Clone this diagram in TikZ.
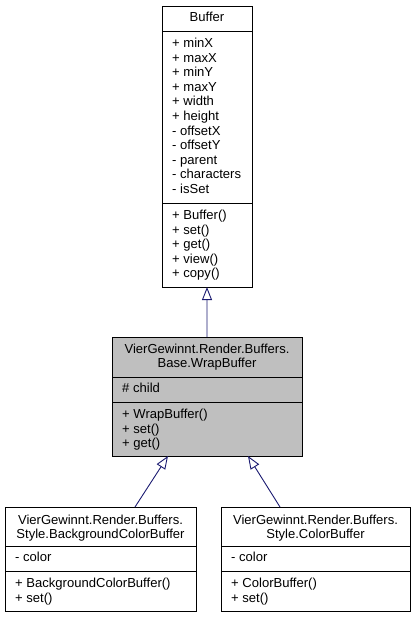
\documentclass[tikz,border=0pt]{standalone}
\usepackage{fontspec}
\setmainfont{Liberation Sans}
\usetikzlibrary{arrows.meta}
\definecolor{edgeblue}{HTML}{191970}
\definecolor{boxgray}{HTML}{BFBFBF}
\tikzset{
  cls/.style={draw=black, line width=0.9bp, fill=white, anchor=north west, inner sep=0pt, outer sep=0pt},
  sep/.style={draw=black, line width=0.9bp},
  ttl/.style={anchor=base, inner sep=0pt, font=\fontsize{13.1}{14.6}\selectfont},
  mem/.style={anchor=base west, inner sep=0pt, font=\fontsize{13.1}{14.6}\selectfont},
  inh/.style={draw=edgeblue, line width=0.9bp, -{Triangle[fill=white, length=13bp, width=10bp, line width=0.9bp]}}
}
\begin{document}
\begin{tikzpicture}[x=1bp,y=-1bp]
\useasboundingbox (0,0) rectangle (415,617);
% Buffer
\node[cls, minimum width=90bp, minimum height=281bp] (buffer) at (162,6) {};
\draw[sep] (162,31) -- (252,31);
\draw[sep] (162,203) -- (252,203);
\node[ttl] (bt) at (207,21.5) {Buffer};
\foreach \t [count=\i from 0] in {+ minX,+ maxX,+ minY,+ maxY,+ width,+ height,- offsetX,- offsetY,- parent,- characters,- isSet}
  \node[mem] (ba\i) at (172,47.5+14.6*\i) {\t};
\foreach \t [count=\i from 0] in {+ Buffer(),+ set(),+ get(),+ view(),+ copy()}
  \node[mem] (bm\i) at (172,219.5+14.6*\i) {\t};
% WrapBuffer
\node[cls, fill=boxgray, minimum width=190bp, minimum height=119bp] (wrap) at (112,337) {};
\draw[sep] (112,377) -- (302,377);
\draw[sep] (112,402) -- (302,402);
\node[ttl] (wt1) at (207,353) {VierGewinnt.Render.Buffers.};
\node[ttl] (wt2) at (207,367.4) {Base.WrapBuffer};
\node[mem] (wa0) at (122,392.5) {\# child};
\foreach \t [count=\i from 0] in {+ WrapBuffer(),+ set(),+ get()}
  \node[mem] (wm\i) at (122,418.5+14.6*\i) {\t};
% BackgroundColorBuffer
\node[cls, minimum width=191bp, minimum height=104bp] (bgc) at (5,507) {};
\draw[sep] (5,546) -- (196,546);
\draw[sep] (5,571) -- (196,571);
\node[ttl] (gt1) at (100.5,524) {VierGewinnt.Render.Buffers.};
\node[ttl] (gt2) at (100.5,538.6) {Style.BackgroundColorBuffer};
\node[mem] (ga0) at (15,561.5) {- color};
\node[mem] (gm0) at (15,587.5) {+ BackgroundColorBuffer()};
\node[mem] (gm1) at (15,602.1) {+ set()};
% ColorBuffer
\node[cls, minimum width=189bp, minimum height=104bp] (cb) at (221,507) {};
\draw[sep] (221,546) -- (410,546);
\draw[sep] (221,571) -- (410,571);
\node[ttl] (ct1) at (315.5,524) {VierGewinnt.Render.Buffers.};
\node[ttl] (ct2) at (315.5,538.6) {Style.ColorBuffer};
\node[mem] (ca0) at (231,561.5) {- color};
\node[mem] (cm0) at (231,587.5) {+ ColorBuffer()};
\node[mem] (cm1) at (231,602.1) {+ set()};
% inheritance
\draw[inh] (wrap.north) -- (buffer.south);
\draw[inh] ([xshift=34.5bp]bgc.north) -- ([xshift=-39bp]wrap.south);
\draw[inh] ([xshift=-35.5bp]cb.north) -- ([xshift=41bp]wrap.south);
\end{tikzpicture}
\end{document}
